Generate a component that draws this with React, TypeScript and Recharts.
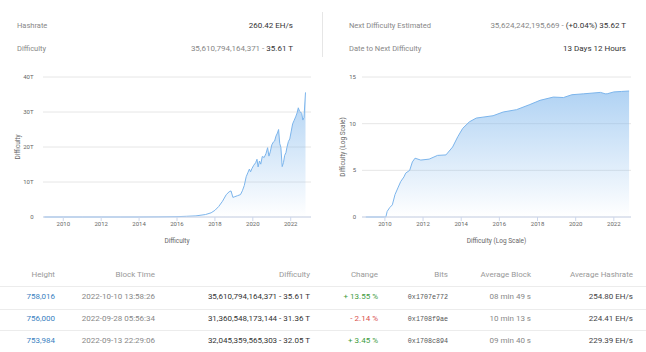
import React from 'react';
import { AreaChart, Area, XAxis, YAxis, CartesianGrid } from 'recharts';

// difficulty in T, linear chart
const linYears = [
  2009.0, 2010.0, 2011.0, 2012.0, 2013.0, 2014.0, 2015.0, 2016.0, 2016.5, 2017.0,
  2017.5, 2017.8, 2018.0, 2018.2, 2018.4, 2018.6, 2018.75, 2018.85, 2018.95, 2019.05,
  2019.2, 2019.35, 2019.45, 2019.55, 2019.65, 2019.75, 2019.82, 2019.88, 2019.95, 2020.05,
  2020.15, 2020.22, 2020.28, 2020.35, 2020.42, 2020.5, 2020.6, 2020.7, 2020.78, 2020.85,
  2020.92, 2021.0, 2021.08, 2021.15, 2021.22, 2021.3, 2021.36, 2021.42, 2021.48, 2021.55,
  2021.62, 2021.68, 2021.75, 2021.8, 2021.88, 2021.95, 2022.02, 2022.1, 2022.18, 2022.26,
  2022.34, 2022.4, 2022.46, 2022.52, 2022.58, 2022.64, 2022.7, 2022.74, 2022.78,
];
const linDifficulty = [
  0, 0, 0, 0, 0, 0.001, 0.04, 0.1, 0.2, 0.32,
  0.7, 1.2, 1.9, 3.0, 4.5, 6.4, 7.2, 7.45, 5.6, 5.8,
  6.1, 6.4, 7.5, 9.0, 11.5, 12.8, 13.7, 12.9, 13.8, 14.8,
  15.5, 16.5, 14.3, 16.0, 15.1, 17.3, 17.0, 18.2, 19.8, 17.4,
  18.6, 20.6, 21.4, 21.7, 23.1, 24.0, 25.0, 21.0, 19.9, 14.4,
  15.6, 17.6, 18.4, 19.9, 21.6, 22.3, 24.3, 26.6, 27.6, 28.6,
  29.8, 31.2, 30.3, 30.0, 29.6, 27.7, 28.4, 32.0, 35.6,
];

// log10 of difficulty
const logYears = [
  2009.0, 2010.05, 2010.12, 2010.25, 2010.39, 2010.53, 2010.7, 2010.83, 2011.0, 2011.09,
  2011.3, 2011.44, 2011.58, 2011.88, 2012.32, 2012.76, 2013.2, 2013.55, 2013.82, 2014.08,
  2014.43, 2014.79, 2015.14, 2015.67, 2016.2, 2016.9, 2017.6, 2018.13, 2018.83, 2019.36,
  2019.8, 2020.42, 2021.3, 2021.55, 2021.65, 2022.0, 2022.4, 2022.8,
];
const logDifficulty = [
  0, 0, 0.6, 1.0, 1.3, 2.4, 3.2, 3.8, 4.3, 4.7,
  5.0, 5.9, 6.3, 6.1, 6.2, 6.6, 6.65, 7.5, 8.6, 9.5,
  10.2, 10.6, 10.7, 10.85, 11.25, 11.5, 12.05, 12.5, 12.85, 12.8,
  13.1, 13.2, 13.35, 13.2, 13.2, 13.4, 13.45, 13.5,
];

const yearTicks = [2010, 2012, 2014, 2016, 2018, 2020, 2022];
const linTicks = [0, 10, 20, 30, 40];
const logTicks = [0, 5, 10, 15];

// table
const heights = ['758,016', '756,000', '753,984'];
const blockTimes = ['2022-10-10 13:58:26', '2022-09-28 05:56:34', '2022-09-13 22:29:06'];
const difficulties = ['35,610,794,164,371 - 35.61 T', '31,360,548,173,144 - 31.36 T', '32,045,359,565,303 - 32.05 T'];
const changes = ['+ 13.55 %', '- 2.14 %', '+ 3.45 %'];
const bits = ['0x1707e772', '0x1708f9ae', '0x1708c894'];
const avgBlocks = ['08 min 49 s', '10 min 13 s', '09 min 40 s'];
const avgHashrates = ['254.80 EH/s', '224.41 EH/s', '229.39 EH/s'];

const FONT = 'Roboto, "Noto Sans", sans-serif';

const linData = linYears.map((t, i) => ({ t, d: linDifficulty[i] }));
const logData = logYears.map((t, i) => ({ t, d: logDifficulty[i] }));

function DiffChart({ data, xDomain, yDomain, yTicks, yFormat, title, yAxisWidth, tickMargin, yTitleX, right, id }: any) {
  return (
    <AreaChart width={323} height={195} data={data} margin={{ top: 17, right, left: 0, bottom: 12 }}>
      <defs>
        <linearGradient id={id} x1="0" y1="0" x2="0" y2="1">
          <stop offset="0%" stopColor="#7cb5ec" stopOpacity={1} />
          <stop offset="100%" stopColor="#7cb5ec" stopOpacity={0} />
        </linearGradient>
      </defs>
      <CartesianGrid vertical={false} stroke="#e6e6e6" />
      <XAxis
        dataKey="t"
        type="number"
        domain={xDomain}
        ticks={yearTicks}
        interval={0}
        allowDataOverflow
        height={26}
        stroke="#ccd6eb"
        tickSize={4}
        tickMargin={1}
        tick={{ fontSize: 6, fill: '#666', fontFamily: FONT }}
        label={{ value: title, position: 'insideBottom', offset: 0, style: { fontSize: 6.5, fill: '#666', fontFamily: FONT } }}
      />
      <YAxis
        type="number"
        domain={yDomain}
        ticks={yTicks}
        width={yAxisWidth}
        axisLine={false}
        tickLine={false}
        tickSize={0}
        tickMargin={tickMargin}
        tickFormatter={yFormat}
        tick={{ fontSize: 6, fill: '#666', fontFamily: FONT }}
        label={{ value: title, angle: -90, position: 'insideLeft', offset: yTitleX, style: { textAnchor: 'middle', fontSize: 6.5, fill: '#666', fontFamily: FONT } }}
      />
      <Area
        type="linear"
        dataKey="d"
        stroke="#7cb5ec"
        strokeWidth={1}
        fill={`url(#${id})`}
        dot={false}
        activeDot={false}
        isAnimationActive={false}
      />
    </AreaChart>
  );
}

function Txt({ x, y, right, children, size = 8, color = '#333', style }: any) {
  const pos: any = right
    ? { right: 646 - x, textAlign: 'right' }
    : { left: x, textAlign: 'left' };
  return (
    <div
      style={{
        position: 'absolute',
        top: y - 6,
        height: 12,
        lineHeight: '12px',
        whiteSpace: 'nowrap',
        fontSize: size,
        color,
        fontFamily: FONT,
        ...pos,
        ...style,
      }}
    >
      {children}
    </div>
  );
}

const colRights = [55, 155, 310, 378, 448, 531, 633];
const headers = ['Height', 'Block Time', 'Difficulty', 'Change', 'Bits', 'Average Block', 'Average Hashrate'];
const rowYs = [297.3, 319.3, 341];
const lineYs = [285.7, 309, 330.3];

export default function App() {
  return (
    <div style={{ position: 'absolute', left: 0, top: 0, width: 646, height: 352, background: '#fff', overflow: 'hidden', fontFamily: FONT }}>
      {/* summary */}
      <Txt x={17} y={26} size={7.5} color="#888">Hashrate</Txt>
      <Txt x={293} y={26} right>260.42 EH/s</Txt>
      <Txt x={17} y={49} size={7.5} color="#888">Difficulty</Txt>
      <Txt x={293} y={49} right color="#888">
        35,610,794,164,371 - <span style={{ color: '#333' }}>35.61 T</span>
      </Txt>
      <div style={{ position: 'absolute', left: 322, top: 12, width: 1, height: 45, background: '#e6e6e6' }} />
      <Txt x={349} y={26} size={7.5} color="#888">Next Difficulty Estimated</Txt>
      <Txt x={626} y={26} right color="#888">
        35,624,242,195,669 - <span style={{ color: '#333' }}>(+0.04%) 35.62 T</span>
      </Txt>
      <Txt x={349} y={49} size={7.5} color="#888">Date to Next Difficulty</Txt>
      <Txt x={626} y={49} right>13 Days 12 Hours</Txt>

      {/* charts */}
      <div style={{ position: 'absolute', left: 0, top: 60 }}>
        <DiffChart
          id="gLin"
          data={linData}
          xDomain={[2008.93, 2023.07]}
          yDomain={[0, 40]}
          yTicks={linTicks}
          yFormat={(v: number) => (v === 0 ? '0' : `${v}T`)}
          title="Difficulty"
          yAxisWidth={43}
          tickMargin={9.5}
          yTitleX={18}
          right={12}
        />
      </div>
      <div style={{ position: 'absolute', left: 323, top: 60 }}>
        <DiffChart
          id="gLog"
          data={logData}
          xDomain={[2008.8, 2022.9]}
          yDomain={[0, 15]}
          yTicks={logTicks}
          yFormat={(v: number) => String(v)}
          title="Difficulty (Log Scale)"
          yAxisWidth={39}
          tickMargin={6}
          yTitleX={20}
          right={15}
        />
      </div>

      {/* table */}
      {lineYs.map((y) => (
        <div key={y} style={{ position: 'absolute', left: 0, top: Math.round(y), width: 646, height: 1, background: '#ececec' }} />
      ))}
      {headers.map((h, i) => (
        <Txt key={h} x={colRights[i]} y={275} right color="#999">{h}</Txt>
      ))}
      {rowYs.map((y, r) => (
        <React.Fragment key={r}>
          <Txt x={colRights[0]} y={y} right color="#3a7fc1">{heights[r]}</Txt>
          <Txt x={colRights[1]} y={y} right color="#888">{blockTimes[r]}</Txt>
          <Txt x={colRights[2]} y={y} right color="#333">{difficulties[r]}</Txt>
          <Txt x={colRights[3]} y={y} right color={changes[r].startsWith('+') ? '#3d9b3d' : '#d9534f'}>{changes[r]}</Txt>
          <Txt x={colRights[4]} y={y} right size={6.7} color="#555" style={{ fontFamily: '"Liberation Mono", "DejaVu Sans Mono", monospace' }}>{bits[r]}</Txt>
          <Txt x={colRights[5]} y={y} right color="#888">{avgBlocks[r]}</Txt>
          <Txt x={colRights[6]} y={y} right color="#444">{avgHashrates[r]}</Txt>
        </React.Fragment>
      ))}
    </div>
  );
}
